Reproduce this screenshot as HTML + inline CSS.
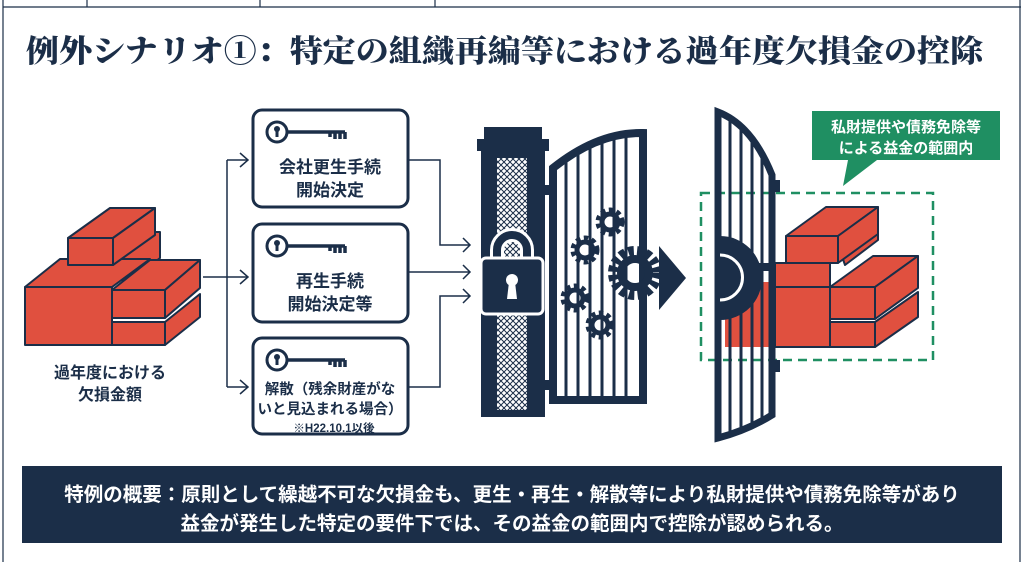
<!DOCTYPE html>
<html><head><meta charset="utf-8"><style>
body{margin:0;background:#fff}
svg{display:block}
text{font-family:"Liberation Sans","Noto Sans CJK JP",sans-serif;font-weight:bold}
</style></head><body>
<svg width="1024" height="562" viewBox="0 0 1024 562" xmlns="http://www.w3.org/2000/svg">
<defs>
<pattern id="mesh" width="6" height="6" patternUnits="userSpaceOnUse">
<rect width="6" height="6" fill="#fff"/>
<path d="M0 0L6 6M6 0L0 6" stroke="#1b2e48" stroke-width="1"/>
</pattern>
<g id="key">
<circle cx="12" cy="12" r="10" fill="none" stroke="#1b2e48" stroke-width="3"/>
<circle cx="12" cy="9" r="3" fill="#1b2e48"/><rect x="10.5" y="9" width="3" height="8" fill="#1b2e48"/>
<path d="M22 12H80M70 12v7M75 12v7M80 12v7M65 12v5" stroke="#1b2e48" stroke-width="3.5" fill="none"/>
</g>
<g id="gear">
<circle r="11" fill="none" stroke="#1b2e48" stroke-width="7" stroke-dasharray="4 3.2"/>
<circle r="8" fill="none" stroke="#1b2e48" stroke-width="5"/>
</g>
</defs>
<g stroke="#1b2e48" stroke-width="1.2" fill="none">
<path d="M3 7H1021M3 0V562M1020 0V562M87 0V7M260 0V7M435 0V7"/>
</g>
<text x="26" y="62" font-size="31" fill="#1b2e48" textLength="957" lengthAdjust="spacingAndGlyphs" style="font-family:'Liberation Serif','Noto Serif CJK SC',serif;font-weight:900">例外シナリオ①：特定の組織再編等における過年度欠損金の控除</text>

<g fill="#e0503f" stroke="#1b2e48" stroke-width="2" stroke-linejoin="round">
<path d="M113 262L155 232H160V258L125 285Z"/>
<path d="M25 287L60 259H150L112 287Z"/>
<rect x="25" y="287" width="87" height="58"/>
<path d="M68 238L110 208H155L113 238Z"/><rect x="68" y="238" width="45" height="27"/><path d="M113 238L155 208V235L113 265Z"/>
<path d="M112 290L150 260H200L165 290Z"/><rect x="112" y="290" width="53" height="28"/><path d="M165 290L200 260V288L165 318Z"/>
<rect x="112" y="322" width="53" height="23"/><path d="M165 322L200 294V317L165 345Z"/>
</g>
<text x="110" y="378" font-size="16" fill="#1b2e48" text-anchor="middle">過年度における</text>
<text x="110" y="400" font-size="16" fill="#1b2e48" text-anchor="middle">欠損金額</text>

<g stroke="#1b2e48" stroke-width="1.5" fill="none">
<path d="M203 277H248M227 160V387M227 160H248M227 387H248"/>
<path d="M240 153L248 160L240 167M240 270L248 277L240 284M240 380L248 387L240 394"/>
<path d="M408 160H440V245H470M408 272H470M408 387H440V296H470"/>
<path d="M463 238L470 245L463 252M463 265L470 272L463 279M463 289L470 296L463 303"/>
</g>

<g fill="#fff" stroke="#1b2e48" stroke-width="3">
<rect x="253" y="110" width="155" height="97" rx="9"/>
<rect x="253" y="224" width="155" height="98" rx="9"/>
<rect x="253" y="338" width="155" height="96" rx="9"/>
</g>
<use href="#key" x="265" y="120"/><use href="#key" x="265" y="234"/><use href="#key" x="265" y="348"/>
<g fill="#1b2e48" text-anchor="middle">
<text x="330" y="173" font-size="17">会社更生手続</text>
<text x="330" y="196" font-size="17">開始決定</text>
<text x="330" y="287" font-size="17">再生手続</text>
<text x="330" y="310" font-size="17">開始決定等</text>
<text x="330" y="394" font-size="14.5">解散（残余財産がな</text>
<text x="330" y="414" font-size="14.5">いと見込まれる場合）</text>
<text x="334" y="432" font-size="11.5">※H22.10.1以後</text>
</g>

<g fill="#1b2e48">
<rect x="484" y="127" width="58" height="12"/><rect x="477" y="139" width="72" height="12"/>
<rect x="481" y="151" width="64" height="266"/>
</g>
<rect x="497" y="158" width="30" height="252" fill="url(#mesh)"/>
<rect x="545" y="185" width="12" height="10" fill="#1b2e48"/><rect x="545" y="380" width="12" height="10" fill="#1b2e48"/>
<g>
<path d="M497 262V250A15 15 0 0 1 527 250V262" fill="none" stroke="#fff" stroke-width="14"/>
<path d="M497 262V250A15 15 0 0 1 527 250V262" fill="none" stroke="#1b2e48" stroke-width="8"/>
<rect x="481" y="258" width="62" height="56" rx="5" fill="#1b2e48" stroke="#fff" stroke-width="3"/>
<circle cx="512" cy="280" r="6" fill="#fff"/><path d="M509 282H515L517 299H507Z" fill="#fff"/>
</g>
<path d="M553 400V168Q598 132 643 133V400Z" fill="none" stroke="#1b2e48" stroke-width="8"/>
<g stroke="#1b2e48" stroke-width="3">
<path d="M566 160V400M578 150V400M590 143V400M602 138V400M614 135V400M626 134V400"/>
</g>
<g>
<use href="#gear" x="610" y="222"/><use href="#gear" x="585" y="250"/><use href="#gear" x="575" y="298"/>
<use href="#gear" x="600" y="325"/>
<circle cx="635" cy="273" r="20" fill="none" stroke="#1b2e48" stroke-width="14" stroke-dasharray="5 3"/>
<circle cx="635" cy="273" r="14" fill="none" stroke="#1b2e48" stroke-width="8"/>
</g>
<path d="M659 246L686 278L659 310Z" fill="#1b2e48"/>

<path d="M812 111H1000V160H877L843 186L848 160H812Z" fill="#1f8f62"/>
<text x="906" y="132" font-size="15" fill="#fff" text-anchor="middle">私財提供や債務免除等</text>
<text x="906" y="153" font-size="15" fill="#fff" text-anchor="middle">による益金の範囲内</text>
<rect x="701" y="193" width="232" height="167" fill="none" stroke="#1f8f62" stroke-width="2.5" stroke-dasharray="9 6"/>

<g fill="#e0503f" stroke="#1b2e48" stroke-width="2" stroke-linejoin="round">
<rect x="725" y="282" width="55" height="65" stroke="none"/>
<path d="M838 245L878 218V240L845 265Z"/>
<rect x="775" y="263" width="55" height="84"/>
<path d="M775 287H830"/>
<path d="M786 236L826 207H878L838 236Z"/><rect x="786" y="236" width="52" height="27"/><path d="M838 236L878 207V234L838 263Z"/>
<path d="M830 287L873 256H918L875 287Z"/><rect x="830" y="287" width="45" height="32"/><path d="M875 287L918 256V288L875 319Z"/>
<rect x="830" y="322" width="45" height="25"/><path d="M875 322L918 292V317L875 347Z"/>
</g>

<rect x="770" y="180" width="10" height="12" fill="#1b2e48"/><rect x="770" y="360" width="10" height="12" fill="#1b2e48"/>
<path d="M718 112V438Q748 430 772 415V175Q752 125 718 112Z" fill="none" stroke="#1b2e48" stroke-width="7"/>
<g stroke="#1b2e48" stroke-width="3">
<path d="M730 118V432M741 125V430M752 135V425M762 150V420"/>
</g>
<path d="M720 236A42 42 0 0 1 720 320Z" fill="#1b2e48"/>
<path d="M720 255A22 22 0 0 1 720 300" fill="none" stroke="#fff" stroke-width="3"/>
<rect x="745" y="263" width="30" height="8" fill="#1b2e48"/>

<rect x="22" y="466" width="980" height="77" fill="#1b2e48"/>
<text x="512" y="501" font-size="19.5" fill="#fff" text-anchor="middle">特例の概要：原則として繰越不可な欠損金も、更生・再生・解散等により私財提供や債務免除等があり</text>
<text x="512" y="530" font-size="19.5" fill="#fff" text-anchor="middle">益金が発生した特定の要件下では、その益金の範囲内で控除が認められる。</text>
</svg>
</body></html>
